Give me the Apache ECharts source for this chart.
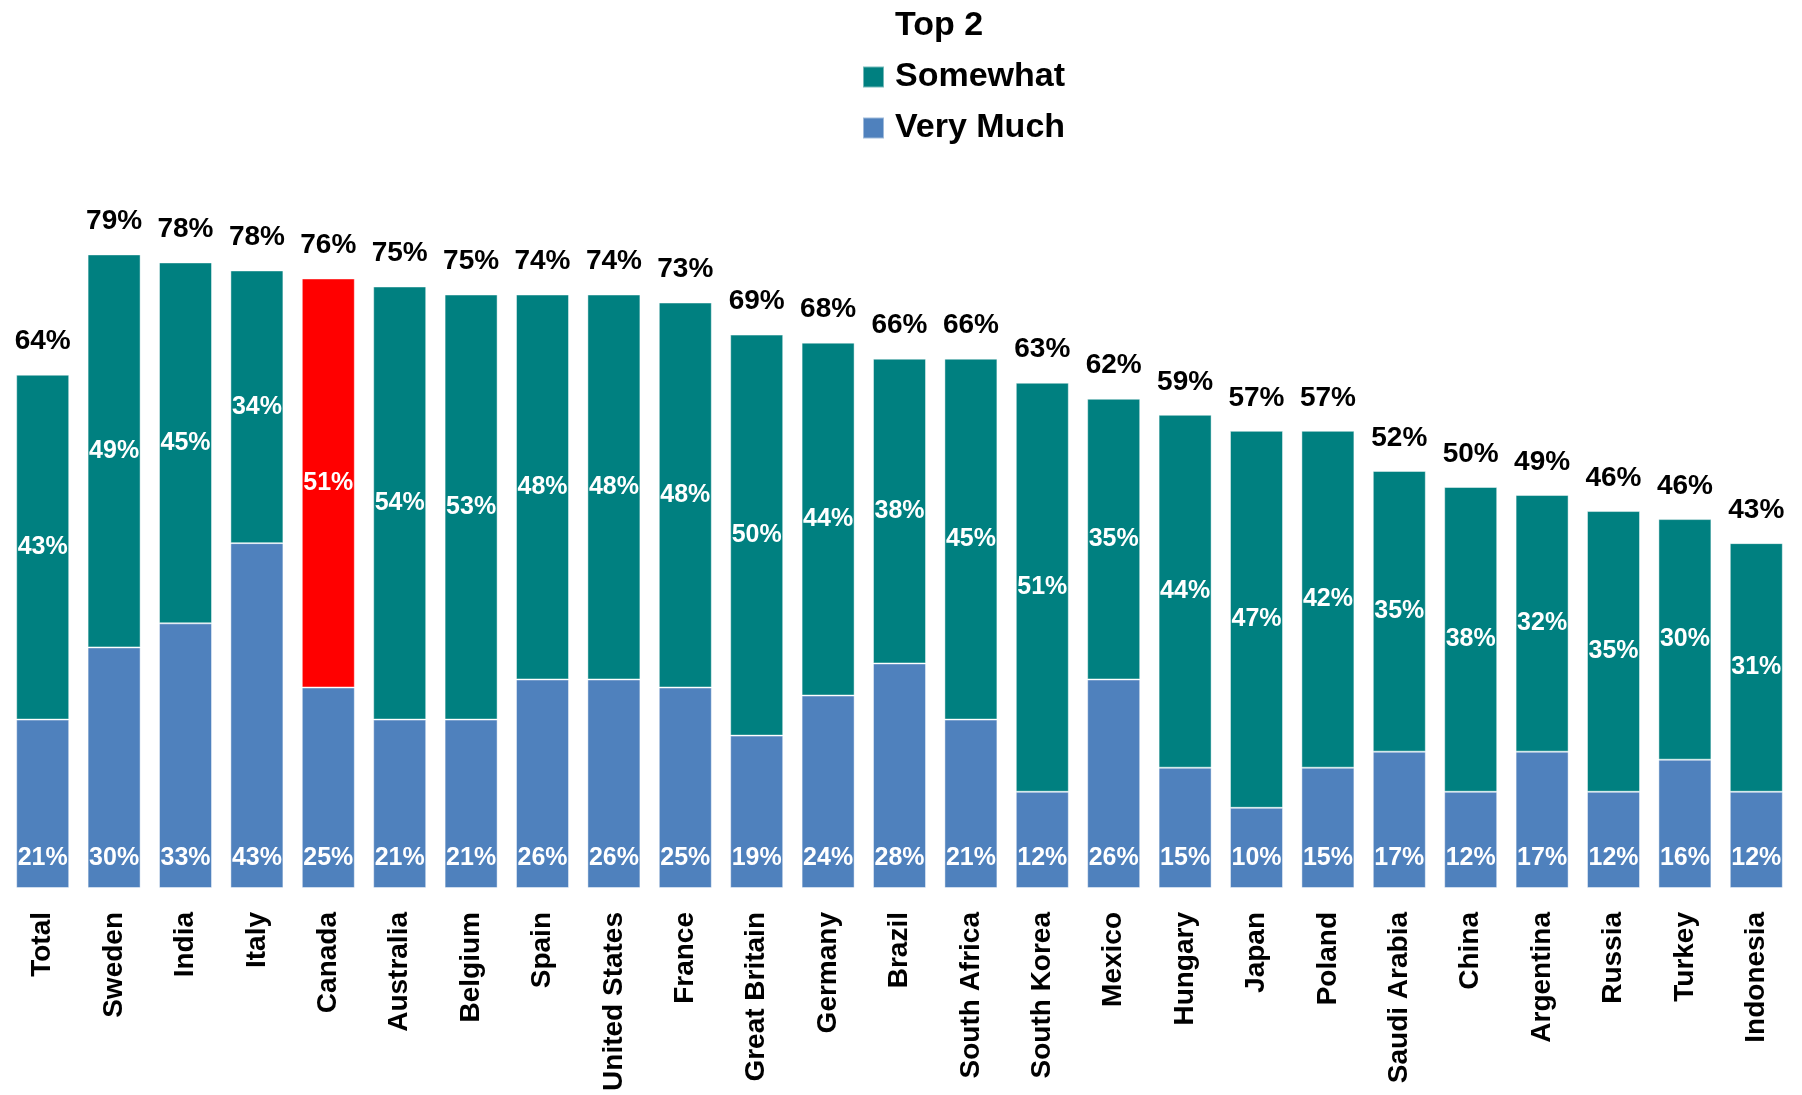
<!DOCTYPE html>
<html>
<head>
<meta charset="utf-8">
<script src="https://cdn.jsdelivr.net/npm/echarts@6/dist/echarts.min.js"></script>
<style>
html,body{margin:0;padding:0;background:#fff;}
#chart{width:1802px;height:1095px;}
</style>
</head>
<body>
<div id="chart"></div>
<script>
const categories = ['Total','Sweden','India','Italy','Canada','Australia','Belgium','Spain','United States','France','Great Britain','Germany','Brazil','South Africa','South Korea','Mexico','Hungary','Japan','Poland','Saudi Arabia','China','Argentina','Russia','Turkey','Indonesia'];
const veryMuch = [21,30,33,43,25,21,21,26,26,25,19,24,28,21,12,26,15,10,15,17,12,17,12,16,12];
const somewhat = [43,49,45,34,51,54,53,48,48,48,50,44,38,45,51,35,44,47,42,35,38,32,35,30,31];
const top2 = [64,79,78,78,76,75,75,74,74,73,69,68,66,66,63,62,59,57,57,52,50,49,46,46,43];
const highlightCategory = 'Canada';

const FONT = "'Liberation Sans', Arial, sans-serif";
const TEAL = '#008080', BLUE = '#4F81BD', RED = '#FF0000';

const chart = echarts.init(document.getElementById('chart'));
chart.setOption({
  animation: false,
  textStyle: { fontFamily: FONT },
  legend: {
    orient: 'vertical',
    left: 857,
    top: 4,
    itemWidth: 21,
    itemHeight: 21,
    itemGap: 17,
    selectedMode: false,
    textStyle: { fontSize: 34, fontWeight: 'bold', color: '#000', fontFamily: FONT, padding: [0,0,0,6] },
    data: [
      { name: 'Top 2', icon: 'none' },
      { name: 'Somewhat', icon: 'rect', itemStyle: { color: TEAL } },
      { name: 'Very Much', icon: 'rect', itemStyle: { color: BLUE } }
    ]
  },
  grid: { left: 7, right: 10, top: 86, bottom: 207, containLabel: false },
  xAxis: {
    type: 'category',
    data: categories,
    axisLine: { show: false },
    axisTick: { show: false },
    axisLabel: {
      rotate: 90, margin: 24, interval: 0,
      fontSize: 28, fontWeight: 'bold', color: '#000', fontFamily: FONT
    }
  },
  yAxis: { type: 'value', min: 0, max: 100, show: false, splitLine: { show: false } },
  series: [
    {
      name: 'Very Much', type: 'bar', stack: 'a', barWidth: 53,
      itemStyle: { color: BLUE, borderColor: 'rgba(255,255,255,0.45)', borderWidth: 1 },
      label: {
        show: true, position: 'insideBottom', distance: 17,
        formatter: p => p.value + '%',
        color: '#fff', fontSize: 25, fontWeight: 'bold', fontFamily: FONT
      },
      data: veryMuch
    },
    {
      name: 'Somewhat', type: 'bar', stack: 'a', barWidth: 53,
      itemStyle: { color: TEAL, borderColor: 'rgba(255,255,255,0.45)', borderWidth: 1 },
      label: {
        show: true, position: 'inside',
        formatter: p => p.value + '%',
        color: '#fff', fontSize: 25, fontWeight: 'bold', fontFamily: FONT
      },
      data: somewhat.map((v, i) => categories[i] === highlightCategory
        ? { value: v, itemStyle: { color: RED } } : v)
    },
    {
      name: 'Top 2', type: 'bar', stack: 'a', barWidth: 53, silent: true,
      itemStyle: { color: 'rgba(0,0,0,0)' },
      label: {
        show: true, position: 'top', distance: 19,
        formatter: p => top2[p.dataIndex] + '%',
        color: '#000', fontSize: 28, fontWeight: 'bold', fontFamily: FONT
      },
      data: top2.map(() => 0)
    }
  ]
});
</script>
</body>
</html>
